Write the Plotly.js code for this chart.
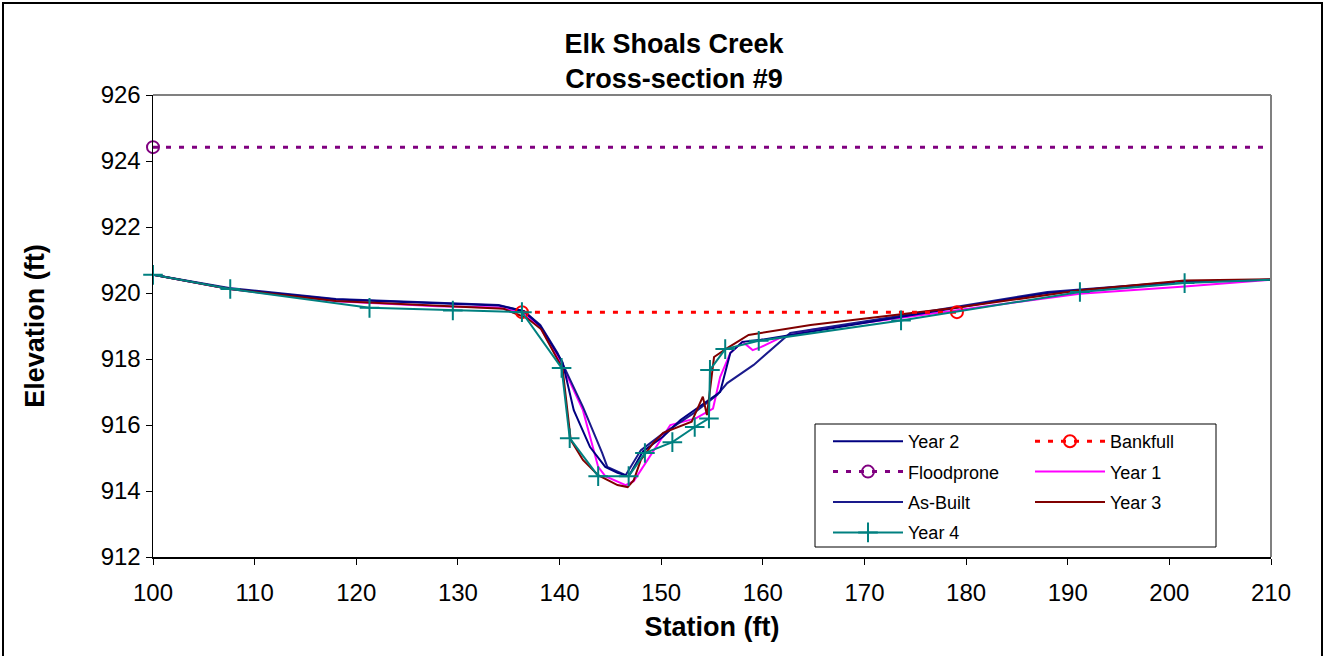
<!DOCTYPE html>
<html>
<head>
<meta charset="utf-8">
<script src="https://cdn.plot.ly/plotly-3.0.1.min.js"></script>
<style>html,body{margin:0;padding:0;background:#fff;}#chart{width:1325px;height:656px;}</style>
</head>
<body>
<div id="chart"></div>
<script>
// ---- Data (station in ft, elevation in ft) ----
var year2X = [100, 107.5, 118, 128, 134, 136.5, 138.1, 140.3, 141.4, 143.0, 144.5, 145.7, 146.8, 148.2, 150.2, 151.9, 155.8, 156.8, 158.0, 159.8, 162.7, 164.7, 175, 188, 201.5, 210];
var year2Y = [920.55, 920.13, 919.8, 919.68, 919.62, 919.45, 919.0, 917.9, 916.45, 915.33, 914.73, 914.55, 914.45, 915.2, 915.65, 916.15, 917.0, 918.18, 918.52, 918.58, 918.73, 918.82, 919.35, 920.0, 920.35, 920.4];

var bankfullX = [136.3, 179.1];
var bankfullY = [919.42, 919.42];

var floodproneX = [100, 210];
var floodproneY = [924.42, 924.42];

var year1X = [100, 107.5, 118, 128, 134, 136.5, 138.1, 140.2, 142.3, 143.8, 144.5, 146.5, 147.3, 149.2, 150.9, 153.4, 155.1, 155.8, 156.8, 158.0, 159.0, 159.8, 161.7, 164.7, 175, 191.2, 201.5, 210];
var year1Y = [920.55, 920.12, 919.75, 919.6, 919.56, 919.4, 918.95, 917.85, 916.45, 914.73, 914.45, 914.18, 914.3, 915.18, 916.0, 916.2, 916.5, 917.45, 918.18, 918.52, 918.27, 918.36, 918.64, 918.88, 919.3, 919.98, 920.2, 920.4];

var asBuiltX = [100, 107.5, 118, 128, 134, 136.5, 138.1, 139.8, 142.3, 144.2, 144.7, 146.5, 148.0, 150.0, 153.2, 155.5, 156.5, 159.1, 162.7, 175, 188, 201.5, 210];
var asBuiltY = [920.55, 920.15, 919.82, 919.7, 919.64, 919.45, 919.03, 918.18, 916.55, 915.15, 914.73, 914.48, 915.24, 915.7, 916.36, 916.91, 917.27, 917.82, 918.79, 919.38, 920.03, 920.35, 920.4];

var year3X = [100, 107.5, 118, 128, 134.5, 136.8, 138.2, 140.3, 141.1, 142.3, 143.8, 145.7, 146.7, 147.3, 148.0, 149.2, 150.2, 153.0, 154.1, 154.5, 155.2, 156.5, 158.6, 164.7, 179, 191.2, 201.5, 210];
var year3Y = [920.55, 920.12, 919.76, 919.62, 919.52, 919.24, 918.9, 917.7, 915.55, 914.94, 914.48, 914.18, 914.12, 914.33, 914.94, 915.45, 915.76, 916.1, 916.86, 916.3, 918.06, 918.33, 918.73, 919.03, 919.55, 920.08, 920.38, 920.42];

var year4X = [100, 107.6, 121.3, 129.5, 136.3, 140.2, 141.0, 143.8, 146.8, 148.4, 151.1, 153.3, 154.7, 154.8, 156.3, 159.6, 173.6, 191.2, 201.5, 210];
var year4Y = [920.55, 920.12, 919.55, 919.47, 919.42, 917.73, 915.6, 914.45, 914.45, 915.15, 915.48, 915.94, 916.2, 917.67, 918.3, 918.55, 919.17, 920.03, 920.3, 920.4];

var xTicks = [100, 110, 120, 130, 140, 150, 160, 170, 180, 190, 200, 210];
var yTicks = [912, 914, 916, 918, 920, 922, 924, 926];

// ---- Plot ----
var FONT = 'Arial, "Liberation Sans", sans-serif';
var HIDDEN = 'rgba(0,0,0,0)';
function lineTrace(name, x, y, color, legend, rank, extra) {
  var t = {type: 'scatter', mode: 'lines', name: name, x: x, y: y,
    line: {color: color, width: 2}, legend: legend, legendgroup: name, legendrank: rank, cliponaxis: false};
  for (var k in extra) t[k] = extra[k];
  return t;
}
// only the first floodprone point and all but the last Year 4 point carry a visible marker
var floodColors = floodproneX.map(function (v, i) { return i === 0 ? '#800080' : HIDDEN; });
var year4Colors = year4X.map(function (v, i) { return i === year4X.length - 1 ? HIDDEN : '#008080'; });

var data = [
  lineTrace('Floodprone', floodproneX, floodproneY, '#800080', 'legend', 2, {
    mode: 'lines+markers', line: {color: '#800080', width: 3, dash: '5px,8px'},
    marker: {symbol: 'circle-open', size: 12, color: floodColors, line: {width: 2}}}),
  lineTrace('Year 1', year1X, year1Y, '#FF00FF', 'legend2', 2),
  lineTrace('As-Built', asBuiltX, asBuiltY, '#1a1a8c', 'legend', 3),
  lineTrace('Year 2', year2X, year2Y, '#000080', 'legend', 1),
  lineTrace('Year 3', year3X, year3Y, '#800000', 'legend2', 3),
  lineTrace('Bankfull', bankfullX, bankfullY, '#FF0000', 'legend2', 1, {
    mode: 'lines+markers', line: {color: '#FF0000', width: 3, dash: '5px,8px'},
    marker: {symbol: 'circle-open', size: 12, color: '#FF0000', line: {width: 2}}}),
  lineTrace('Year 4', year4X, year4Y, '#008080', 'legend', 4, {
    mode: 'lines+markers',
    marker: {symbol: 'cross-thin-open', size: 14, color: year4Colors, line: {width: 2}}})
];

var W = 1325, H = 656, L = 153, R = 1271, T = 95, B = 557;
var pw = R - L, ph = B - T;
function px2x(p) { return (p - L) / pw; }
function px2y(p) { return (B - p) / ph; }

var legendCommon = {
  bgcolor: 'rgba(0,0,0,0)', borderwidth: 0, font: {family: FONT, size: 18, color: '#000'},
  itemwidth: 70, tracegroupgap: 4, traceorder: 'grouped', yanchor: 'top', xanchor: 'left',
  itemclick: false, itemdoubleclick: false
};
var leg1 = Object.assign({}, legendCommon, {x: px2x(828), y: px2y(423)});
var leg2 = Object.assign({}, legendCommon, {x: px2x(1030), y: px2y(423)});

var layout = {
  width: W, height: H,
  margin: {l: L, r: W - R, t: T, b: H - B, pad: 0},
  paper_bgcolor: '#fff', plot_bgcolor: '#fff',
  font: {family: FONT, color: '#000', size: 24},
  title: {text: '<b>Elk Shoals Creek<br>Cross-section #9</b>', font: {family: FONT, size: 27, color: '#000'},
    xref: 'container', yref: 'container', x: 674 / W, xanchor: 'center', y: 1 - 53 / H, yanchor: 'middle'},
  xaxis: {range: [100, 210], tickvals: xTicks, ticktext: xTicks.map(String), ticks: 'outside', ticklen: 6,
    ticklabelstandoff: 8,
    tickcolor: '#000', tickwidth: 1, showline: true, linecolor: '#000', linewidth: 1.5, showgrid: false, zeroline: false,
    tickfont: {family: FONT, size: 24, color: '#000'},
    title: {text: '<b>Station (ft)</b>', font: {family: FONT, size: 27, color: '#000'}, standoff: 12}},
  yaxis: {range: [912, 926], tickvals: yTicks, ticktext: yTicks.map(String), ticks: 'outside', ticklen: 6,
    tickcolor: '#000', tickwidth: 1, showline: true, linecolor: '#000', linewidth: 1.5, showgrid: false, zeroline: false,
    tickfont: {family: FONT, size: 24, color: '#000'},
    title: {text: '<b>Elevation (ft)</b>', font: {family: FONT, size: 27, color: '#000'}, standoff: 48}},
  showlegend: true,
  legend: leg1,
  legend2: leg2,
  shapes: [
    {type: 'line', xref: 'paper', yref: 'paper', x0: 0, x1: 1, y0: 1, y1: 1, line: {color: '#808080', width: 2}},
    {type: 'line', xref: 'paper', yref: 'paper', x0: 1, x1: 1, y0: 0, y1: 1, line: {color: '#808080', width: 2}},
    {type: 'rect', xref: 'paper', yref: 'paper', layer: 'below',
      x0: px2x(815), x1: px2x(1216), y0: px2y(547), y1: px2y(424), fillcolor: '#fff', line: {color: '#000', width: 1}},
    {type: 'rect', xref: 'paper', yref: 'paper', x0: px2x(3), x1: px2x(1322), y0: px2y(660), y1: px2y(3),
      line: {color: '#000', width: 2}}
  ]
};
Plotly.newPlot('chart', data, layout, {staticPlot: true, displayModeBar: false});
</script>
</body>
</html>
